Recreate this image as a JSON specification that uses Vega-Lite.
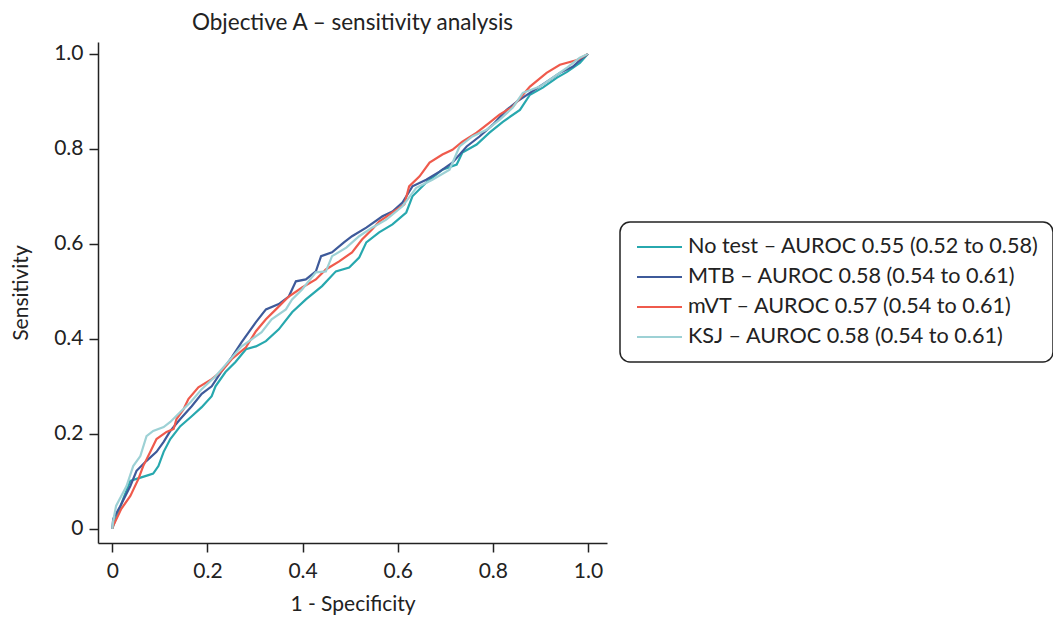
{
  "$schema": "https://vega.github.io/schema/vega-lite/v6.json",
  "width": 509,
  "height": 501,
  "autosize": {"type": "none"},
  "padding": {"left": 98, "top": 42, "right": 446, "bottom": 74},
  "config": {
    "font": "Lato",
    "view": {"stroke": null},
    "title": {"fontSize": 22.5, "fontWeight": "normal", "color": "#222222", "font": "Lato"},
    "axis": {
      "labelFont": "Lato", "titleFont": "Lato",
      "labelFontSize": 21, "titleFontSize": 21, "titleFontWeight": "normal",
      "labelColor": "#222222", "titleColor": "#222222",
      "domainColor": "#222222", "tickColor": "#222222",
      "domainWidth": 1.5, "tickWidth": 1.5, "tickSize": 9,
      "grid": false
    }
  },
  "title": {"text": "Objective A – sensitivity analysis", "anchor": "middle", "offset": 8},
  "data": {"values": [
    {"s":"No test","x":0,"y":0},{"s":"No test","x":0.002,"y":0.006},{"s":"No test","x":0.023,"y":0.063},{"s":"No test","x":0.038,"y":0.101},{"s":"No test","x":0.051,"y":0.105},{"s":"No test","x":0.076,"y":0.113},{"s":"No test","x":0.086,"y":0.116},{"s":"No test","x":0.097,"y":0.132},{"s":"No test","x":0.108,"y":0.162},{"s":"No test","x":0.122,"y":0.189},{"s":"No test","x":0.143,"y":0.216},{"s":"No test","x":0.167,"y":0.237},{"s":"No test","x":0.188,"y":0.256},{"s":"No test","x":0.209,"y":0.279},{"s":"No test","x":0.217,"y":0.300},{"s":"No test","x":0.238,"y":0.330},{"s":"No test","x":0.259,"y":0.351},{"s":"No test","x":0.281,"y":0.378},{"s":"No test","x":0.302,"y":0.384},{"s":"No test","x":0.323,"y":0.395},{"s":"No test","x":0.350,"y":0.420},{"s":"No test","x":0.378,"y":0.456},{"s":"No test","x":0.407,"y":0.483},{"s":"No test","x":0.441,"y":0.511},{"s":"No test","x":0.470,"y":0.542},{"s":"No test","x":0.498,"y":0.550},{"s":"No test","x":0.519,"y":0.571},{"s":"No test","x":0.534,"y":0.603},{"s":"No test","x":0.561,"y":0.624},{"s":"No test","x":0.589,"y":0.641},{"s":"No test","x":0.618,"y":0.666},{"s":"No test","x":0.631,"y":0.700},{"s":"No test","x":0.660,"y":0.729},{"s":"No test","x":0.694,"y":0.756},{"s":"No test","x":0.724,"y":0.767},{"s":"No test","x":0.736,"y":0.792},{"s":"No test","x":0.766,"y":0.809},{"s":"No test","x":0.793,"y":0.834},{"s":"No test","x":0.821,"y":0.857},{"s":"No test","x":0.857,"y":0.882},{"s":"No test","x":0.878,"y":0.914},{"s":"No test","x":0.905,"y":0.929},{"s":"No test","x":0.935,"y":0.950},{"s":"No test","x":0.956,"y":0.962},{"s":"No test","x":0.983,"y":0.981},{"s":"No test","x":1,"y":1},
    {"s":"MTB","x":0,"y":0},{"s":"MTB","x":0.002,"y":0.021},{"s":"MTB","x":0.017,"y":0.048},{"s":"MTB","x":0.038,"y":0.090},{"s":"MTB","x":0.051,"y":0.122},{"s":"MTB","x":0.072,"y":0.143},{"s":"MTB","x":0.093,"y":0.162},{"s":"MTB","x":0.108,"y":0.183},{"s":"MTB","x":0.122,"y":0.206},{"s":"MTB","x":0.143,"y":0.231},{"s":"MTB","x":0.167,"y":0.258},{"s":"MTB","x":0.188,"y":0.284},{"s":"MTB","x":0.209,"y":0.300},{"s":"MTB","x":0.230,"y":0.332},{"s":"MTB","x":0.251,"y":0.361},{"s":"MTB","x":0.272,"y":0.393},{"s":"MTB","x":0.287,"y":0.414},{"s":"MTB","x":0.302,"y":0.435},{"s":"MTB","x":0.323,"y":0.462},{"s":"MTB","x":0.350,"y":0.473},{"s":"MTB","x":0.371,"y":0.489},{"s":"MTB","x":0.386,"y":0.521},{"s":"MTB","x":0.407,"y":0.525},{"s":"MTB","x":0.428,"y":0.542},{"s":"MTB","x":0.439,"y":0.574},{"s":"MTB","x":0.462,"y":0.582},{"s":"MTB","x":0.487,"y":0.603},{"s":"MTB","x":0.504,"y":0.616},{"s":"MTB","x":0.534,"y":0.634},{"s":"MTB","x":0.568,"y":0.658},{"s":"MTB","x":0.589,"y":0.668},{"s":"MTB","x":0.610,"y":0.687},{"s":"MTB","x":0.631,"y":0.721},{"s":"MTB","x":0.660,"y":0.735},{"s":"MTB","x":0.688,"y":0.752},{"s":"MTB","x":0.715,"y":0.771},{"s":"MTB","x":0.745,"y":0.805},{"s":"MTB","x":0.772,"y":0.826},{"s":"MTB","x":0.800,"y":0.851},{"s":"MTB","x":0.829,"y":0.882},{"s":"MTB","x":0.850,"y":0.899},{"s":"MTB","x":0.878,"y":0.918},{"s":"MTB","x":0.913,"y":0.941},{"s":"MTB","x":0.941,"y":0.960},{"s":"MTB","x":0.968,"y":0.973},{"s":"MTB","x":0.989,"y":0.992},{"s":"MTB","x":1,"y":1},
    {"s":"mVT","x":0,"y":0},{"s":"mVT","x":0.002,"y":0.006},{"s":"mVT","x":0.019,"y":0.042},{"s":"mVT","x":0.038,"y":0.069},{"s":"mVT","x":0.055,"y":0.105},{"s":"mVT","x":0.065,"y":0.132},{"s":"mVT","x":0.080,"y":0.162},{"s":"mVT","x":0.093,"y":0.189},{"s":"mVT","x":0.114,"y":0.204},{"s":"mVT","x":0.129,"y":0.210},{"s":"mVT","x":0.135,"y":0.231},{"s":"mVT","x":0.150,"y":0.252},{"s":"mVT","x":0.160,"y":0.273},{"s":"mVT","x":0.181,"y":0.298},{"s":"mVT","x":0.209,"y":0.315},{"s":"mVT","x":0.230,"y":0.332},{"s":"mVT","x":0.251,"y":0.357},{"s":"mVT","x":0.281,"y":0.382},{"s":"mVT","x":0.302,"y":0.416},{"s":"mVT","x":0.323,"y":0.441},{"s":"mVT","x":0.344,"y":0.462},{"s":"mVT","x":0.371,"y":0.489},{"s":"mVT","x":0.399,"y":0.508},{"s":"mVT","x":0.428,"y":0.525},{"s":"mVT","x":0.449,"y":0.546},{"s":"mVT","x":0.477,"y":0.563},{"s":"mVT","x":0.504,"y":0.582},{"s":"mVT","x":0.525,"y":0.609},{"s":"mVT","x":0.546,"y":0.630},{"s":"mVT","x":0.561,"y":0.647},{"s":"mVT","x":0.589,"y":0.666},{"s":"mVT","x":0.614,"y":0.683},{"s":"mVT","x":0.624,"y":0.721},{"s":"mVT","x":0.646,"y":0.742},{"s":"mVT","x":0.667,"y":0.771},{"s":"mVT","x":0.694,"y":0.788},{"s":"mVT","x":0.715,"y":0.798},{"s":"mVT","x":0.736,"y":0.815},{"s":"mVT","x":0.766,"y":0.834},{"s":"mVT","x":0.793,"y":0.855},{"s":"mVT","x":0.814,"y":0.872},{"s":"mVT","x":0.842,"y":0.889},{"s":"mVT","x":0.878,"y":0.931},{"s":"mVT","x":0.913,"y":0.960},{"s":"mVT","x":0.941,"y":0.977},{"s":"mVT","x":0.977,"y":0.987},{"s":"mVT","x":1,"y":1},
    {"s":"KSJ","x":0,"y":0},{"s":"KSJ","x":0.002,"y":0.017},{"s":"KSJ","x":0.008,"y":0.048},{"s":"KSJ","x":0.030,"y":0.090},{"s":"KSJ","x":0.044,"y":0.132},{"s":"KSJ","x":0.059,"y":0.153},{"s":"KSJ","x":0.072,"y":0.195},{"s":"KSJ","x":0.086,"y":0.206},{"s":"KSJ","x":0.108,"y":0.214},{"s":"KSJ","x":0.122,"y":0.225},{"s":"KSJ","x":0.143,"y":0.246},{"s":"KSJ","x":0.165,"y":0.267},{"s":"KSJ","x":0.188,"y":0.294},{"s":"KSJ","x":0.217,"y":0.321},{"s":"KSJ","x":0.245,"y":0.353},{"s":"KSJ","x":0.272,"y":0.384},{"s":"KSJ","x":0.293,"y":0.399},{"s":"KSJ","x":0.314,"y":0.414},{"s":"KSJ","x":0.335,"y":0.441},{"s":"KSJ","x":0.365,"y":0.462},{"s":"KSJ","x":0.378,"y":0.483},{"s":"KSJ","x":0.399,"y":0.504},{"s":"KSJ","x":0.428,"y":0.540},{"s":"KSJ","x":0.449,"y":0.542},{"s":"KSJ","x":0.462,"y":0.574},{"s":"KSJ","x":0.492,"y":0.592},{"s":"KSJ","x":0.519,"y":0.616},{"s":"KSJ","x":0.546,"y":0.634},{"s":"KSJ","x":0.576,"y":0.651},{"s":"KSJ","x":0.610,"y":0.679},{"s":"KSJ","x":0.639,"y":0.718},{"s":"KSJ","x":0.673,"y":0.735},{"s":"KSJ","x":0.709,"y":0.756},{"s":"KSJ","x":0.730,"y":0.805},{"s":"KSJ","x":0.757,"y":0.826},{"s":"KSJ","x":0.787,"y":0.840},{"s":"KSJ","x":0.814,"y":0.861},{"s":"KSJ","x":0.842,"y":0.887},{"s":"KSJ","x":0.863,"y":0.918},{"s":"KSJ","x":0.899,"y":0.931},{"s":"KSJ","x":0.926,"y":0.950},{"s":"KSJ","x":0.956,"y":0.971},{"s":"KSJ","x":0.983,"y":0.992},{"s":"KSJ","x":1,"y":1}
  ]},
  "mark": {"type": "line", "strokeWidth": 2.2, "strokeJoin": "miter"},
  "encoding": {
    "x": {"field": "x", "type": "quantitative",
      "scale": {"domain": [-0.03, 1.04], "nice": false, "zero": false},
      "axis": {"title": "1 - Specificity", "values": [0, 0.2, 0.4, 0.6, 0.8, 1.0],
        "labelExpr": "datum.value == 0 ? '0' : format(datum.value, '.1f')",
        "labelPadding": 8, "titlePadding": 12}},
    "y": {"field": "y", "type": "quantitative",
      "scale": {"domain": [-0.03, 1.025], "nice": false, "zero": false},
      "axis": {"title": "Sensitivity", "values": [0, 0.2, 0.4, 0.6, 0.8, 1.0],
        "labelExpr": "datum.value == 0 ? '0' : format(datum.value, '.1f')",
        "labelPadding": 6, "titlePadding": 22}},
    "color": {"field": "s", "type": "nominal",
      "scale": {"domain": ["No test", "MTB", "mVT", "KSJ"],
        "range": ["#27a8ae", "#3e5a9a", "#ef5a4c", "#9dd1d5"]},
      "legend": {"title": null, "orient": "none", "legendX": 522, "legendY": 180,
        "symbolType": "M-0.8,0H3.7", "symbolSize": 400, "symbolStrokeWidth": 2,
        "labelFontSize": 21.6, "labelFont": "Lato", "labelColor": "#222222",
        "labelOffset": 32, "rowPadding": 8, "padding": 14,
        "strokeColor": "#222222", "cornerRadius": 10, "labelLimit": 500,
        "labelExpr": "datum.label == 'No test' ? 'No test – AUROC 0.55 (0.52 to 0.58)' : datum.label == 'MTB' ? 'MTB – AUROC 0.58 (0.54 to 0.61)' : datum.label == 'mVT' ? 'mVT – AUROC 0.57 (0.54 to 0.61)' : 'KSJ – AUROC 0.58 (0.54 to 0.61)'",
        "encode": {"legend": {"update": {"strokeWidth": {"value": 1.5}}}}}
    },
    "order": {"field": "x", "type": "quantitative"}
  }
}
